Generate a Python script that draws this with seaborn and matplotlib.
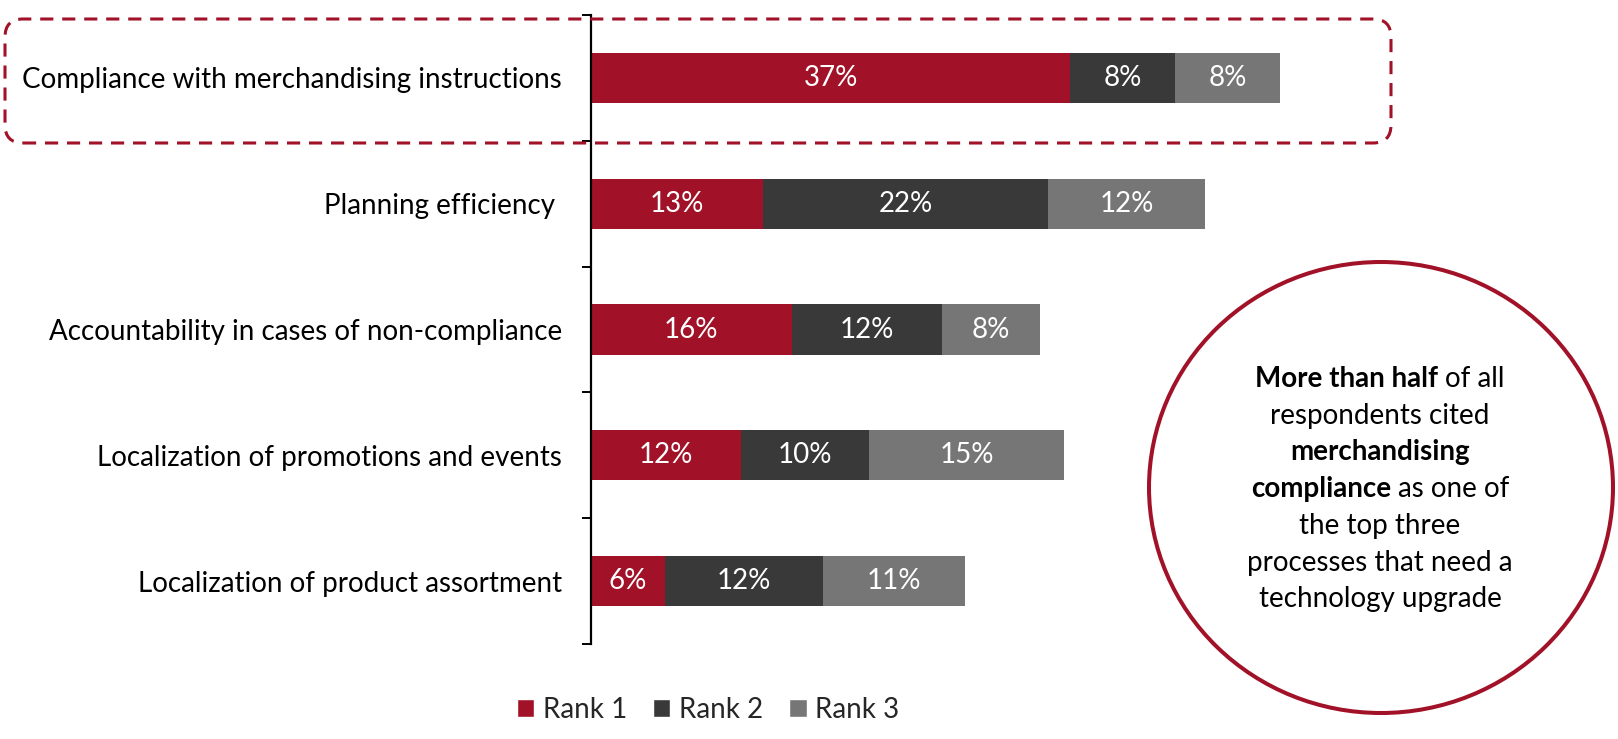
import matplotlib
matplotlib.use("Agg")
import matplotlib.pyplot as plt
import seaborn as sns
import numpy as np
import pandas as pd
from matplotlib.patches import FancyBboxPatch, Ellipse, Patch
from matplotlib.transforms import IdentityTransform

# ---------------- data ----------------
categories = [
    "Compliance with merchandising instructions",
    "Planning efficiency ",
    "Accountability in cases of non-compliance",
    "Localization of promotions and events",
    "Localization of product assortment",
]
rank1 = [37.0, 13.3, 15.5, 11.6, 5.7]
rank2 = [8.1, 22.0, 11.6, 9.9, 12.2]
rank3 = [8.1, 12.1, 7.6, 15.0, 11.0]
series_names = ["Rank 1", "Rank 2", "Rank 3"]
colors = ["#A11228", "#393939", "#767676"]

callout_lines = [
    [("More than half", True), ("of all", False)],
    [("respondents cited", False)],
    [("merchandising", True)],
    [("compliance", True), ("as one of", False)],
    [("the top three", False)],
    [("processes that need a", False)],
    [("technology upgrade", False)],
]

# ---------------- style ----------------
sns.set_style("white")
plt.rcParams["font.family"] = ["Lato", "DejaVu Sans"]
FS = 20
RED = colors[0]

W, H = 1618, 739
fig = plt.figure(figsize=(W / 100, H / 100), dpi=100)
ax = fig.add_axes([591 / W, 95 / H, 780 / W, 629 / H])

df = pd.DataFrame({"category": categories, "r1": rank1, "r2": rank2, "r3": rank3})
df["c1"] = df["r1"]
df["c2"] = df["r1"] + df["r2"]
df["c3"] = df["c2"] + df["r3"]

# stacked bars: draw cumulative totals back to front
for col, color in zip(["c3", "c2", "c1"], colors[::-1]):
    sns.barplot(data=df, x=col, y="category", orient="h", color=color,
                saturation=1, width=0.4, linewidth=0, ax=ax)

# segment labels
for i, row in df.iterrows():
    start = 0
    for v in (row["r1"], row["r2"], row["r3"]):
        ax.text(start + v / 2, i, f"{v:.0f}%", ha="center", va="center",
                color="white", fontsize=FS)
        start += v

ax.set_xlim(0, 780 / 12.95)
ax.set_xlabel("")
ax.set_ylabel("")
ax.set_xticks([])
for s in ("top", "right", "bottom"):
    ax.spines[s].set_visible(False)
ax.spines["left"].set_color("black")
ax.spines["left"].set_linewidth(1.6)
ax.set_yticks(np.arange(-0.5, len(categories), 1.0), minor=True)
ax.tick_params(axis="y", which="major", length=0, pad=21, labelsize=FS,
               labelcolor="black")
ax.tick_params(axis="y", which="minor", left=True, length=6.5, width=1.4,
               color="black", direction="out")

# legend
handles = [Patch(facecolor=c, label=n) for c, n in zip(colors, series_names)]
fig.legend(handles=handles, loc="center", bbox_to_anchor=(708 / W, 29 / H),
           ncol=3, frameon=False, fontsize=FS, handlelength=0.62,
           handleheight=0.62, handletextpad=0.3, columnspacing=0.95)

# dashed highlight box
box = FancyBboxPatch((5, H - 143), 1386, 124,
                     boxstyle="round,pad=0,rounding_size=18",
                     transform=IdentityTransform(), fill=False, edgecolor=RED,
                     linewidth=2.2, linestyle=(0, (4.3, 2.9)))
fig.add_artist(box)

# callout circle
circ = Ellipse((1381 / W, (H - 487.5) / H), 464 / W, 451 / H,
               transform=fig.transFigure, fill=False, edgecolor=RED,
               linewidth=2.9)
fig.add_artist(circ)

renderer = fig.canvas.get_renderer()
def _w(s, bold):
    t = fig.text(0, 0, s, fontsize=FS, fontweight="bold" if bold else "normal",
                 transform=IdentityTransform())
    w = t.get_window_extent(renderer).width
    t.remove()
    return w

space_w = _w("a a", False) - _w("aa", False)
cx = 1380
for k, pieces in enumerate(callout_lines):
    base = H - (387 + k * 36.7)
    widths = [_w(s, b) for s, b in pieces]
    total = sum(widths) + space_w * (len(pieces) - 1)
    x = cx - total / 2
    for (s, b), w in zip(pieces, widths):
        fig.text(x, base, s, fontsize=FS, fontweight="bold" if b else "normal",
                 ha="left", va="baseline", color="black",
                 transform=IdentityTransform())
        x += w + space_w

fig.savefig("out.png", dpi=100, facecolor="white")
